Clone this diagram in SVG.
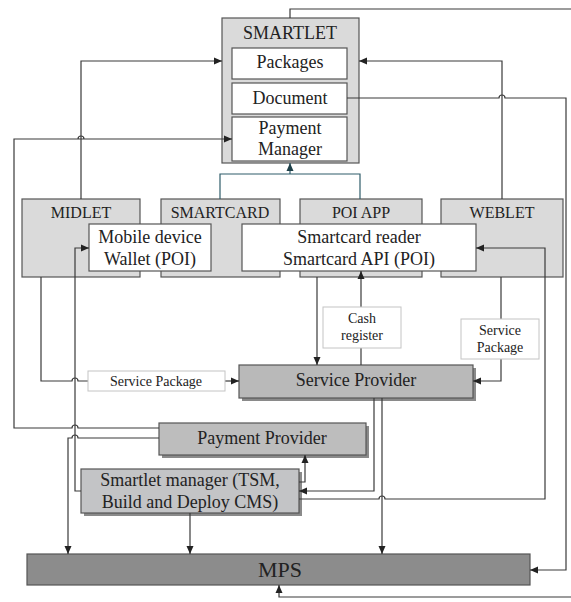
<svg xmlns="http://www.w3.org/2000/svg" width="571" height="602" viewBox="0 0 571 602">
<style>
text{font-family:"Liberation Serif","Times New Roman",serif;fill:#222;text-anchor:middle}
.t18{font-size:18px}
.t16{font-size:16px}
.t14{font-size:14px}
.light{fill:#dadada;stroke:#555;stroke-width:1.2}
.white{fill:#fff;stroke:#555;stroke-width:1.2}
.lbl{fill:#fff;stroke:#c4c4c4;stroke-width:1}
.mid{fill:#bdbdbd;stroke:#555;stroke-width:1.2}
.shadow{fill:#8a8a8a}
.conn path{fill:none;stroke:#3a3a3a;stroke-width:1.2}
.conn path.teal{stroke:#2f5d6a}
</style>
<defs>
<marker id="arr" markerWidth="9" markerHeight="8" refX="8" refY="4" orient="auto" markerUnits="userSpaceOnUse">
<path d="M0,0.5 L8,4 L0,7.5 Z" fill="#222"/>
</marker>
<marker id="arrT" markerWidth="9" markerHeight="8" refX="8" refY="4" orient="auto" markerUnits="userSpaceOnUse">
<path d="M0,0.5 L8,4 L0,7.5 Z" fill="#1d3f48"/>
</marker>
</defs>
<rect width="571" height="602" fill="#fff"/>

<g id="smartlet">
<rect class="light" x="222" y="18" width="137" height="145"/>
<text class="t18" x="290" y="39">SMARTLET</text>
<rect class="white" x="232" y="48" width="115" height="31"/>
<text class="t18" x="290" y="68">Packages</text>
<rect class="white" x="232" y="83" width="115" height="31"/>
<text class="t18" x="290" y="104">Document</text>
<rect class="white" x="232" y="117" width="115" height="44"/>
<text class="t18" x="290" y="134">Payment</text>
<text class="t18" x="290" y="155">Manager</text>
</g>

<g id="midlet">
<rect class="light" x="22" y="199" width="118" height="78"/>
<text class="t16" x="81" y="218">MIDLET</text>
</g>
<g id="smartcard">
<rect class="light" x="161" y="199" width="119" height="78"/>
<text class="t16" x="220" y="218">SMARTCARD</text>
</g>
<g id="poiapp">
<rect class="light" x="300" y="199" width="122" height="78"/>
<text class="t16" x="361" y="218">POI APP</text>
</g>
<g id="weblet">
<rect class="light" x="441" y="199" width="122" height="78"/>
<text class="t16" x="502" y="218">WEBLET</text>
</g>
<g id="wallet">
<rect class="white" x="89" y="224" width="122" height="47"/>
<text class="t18" x="150" y="243">Mobile device</text>
<text class="t18" x="150" y="265">Wallet (POI)</text>
</g>
<g id="reader">
<rect class="white" x="242" y="224" width="234" height="47"/>
<text class="t18" x="359" y="243">Smartcard reader</text>
<text class="t18" x="359" y="265">Smartcard API (POI)</text>
</g>

<g id="service-provider">
<rect class="shadow" x="242" y="368" width="234" height="33"/>
<rect class="mid" x="239" y="365" width="234" height="33" style="fill:#b9b9b9"/>
<text class="t18" x="356" y="386">Service Provider</text>
</g>
<g id="payment-provider">
<rect class="shadow" x="162" y="426" width="207" height="32"/>
<rect class="mid" x="159" y="423" width="207" height="32"/>
<text class="t18" x="262" y="444">Payment Provider</text>
</g>
<g id="smartlet-manager">
<rect class="shadow" x="84" y="472" width="218" height="44"/>
<rect class="mid" x="81" y="469" width="218" height="44" style="fill:#c3c4c6"/>
<text class="t18" x="190" y="486">Smartlet manager (TSM,</text>
<text class="t18" x="190" y="508">Build and Deploy CMS)</text>
</g>
<g id="mps">
<rect x="27" y="554" width="503" height="31" fill="#8c8c8c" stroke="#555" stroke-width="1.2"/>
<text x="280" y="577" style="font-size:22px">MPS</text>
</g>

<g id="connectors" class="conn">
<path d="M81,199 V61 H222" marker-end="url(#arr)"/>
<path d="M502,199 V61 H359" marker-end="url(#arr)"/>
<path d="M347,98 H499 a3,3 0 0 1 6,0 H566 V570 H530" marker-end="url(#arr)"/>
<path d="M290,18 V9 H576 V597 H279 V585" marker-end="url(#arr)"/>
<path d="M159,428 H78 a3,3 0 0 0 -6,0 H14 V139 H84 a3,3 0 0 0 -6,0 M84,139 H232" marker-end="url(#arr)"/>
<path d="M159,438 H78 a3,3 0 0 0 -6,0 H68 V554" marker-end="url(#arr)"/>
<path d="M81,491 H75 V248 H89" marker-end="url(#arr)"/>
<path d="M41,277 V381 H72 a3,3 0 0 1 6,0 H88"/>
<path d="M225,381 H239" marker-end="url(#arr)"/>
<path d="M317,277 V365" marker-end="url(#arr)"/>
<path d="M361,365 V271" marker-end="url(#arr)"/>
<path d="M501,277 V381 H473" marker-end="url(#arr)"/>
<path d="M299,499 H379 a3,3 0 0 1 6,0 H545 V248 H476" marker-end="url(#arr)"/>
<path d="M374,398 V491 H299" marker-end="url(#arr)"/>
<path d="M382,398 V554" marker-end="url(#arr)"/>
<path d="M299,482 H305 V455" marker-end="url(#arr)"/>
<path d="M190,513 V554" marker-end="url(#arr)"/>
<path class="teal" d="M220,199 V174 H360 V199"/>
<path class="teal" d="M290,174 V163" marker-end="url(#arrT)"/>
</g>

<g id="label-service-package-left">
<rect class="lbl" x="88" y="371" width="137" height="20"/>
<text class="t14" x="156" y="386">Service Package</text>
</g>
<g id="label-cash-register">
<rect class="lbl" x="323" y="307" width="78" height="41"/>
<text class="t14" x="362" y="323">Cash</text>
<text class="t14" x="362" y="340">register</text>
</g>
<g id="label-service-package-right">
<rect class="lbl" x="461" y="319" width="78" height="40"/>
<text class="t14" x="500" y="335">Service</text>
<text class="t14" x="500" y="352">Package</text>
</g>
</svg>
